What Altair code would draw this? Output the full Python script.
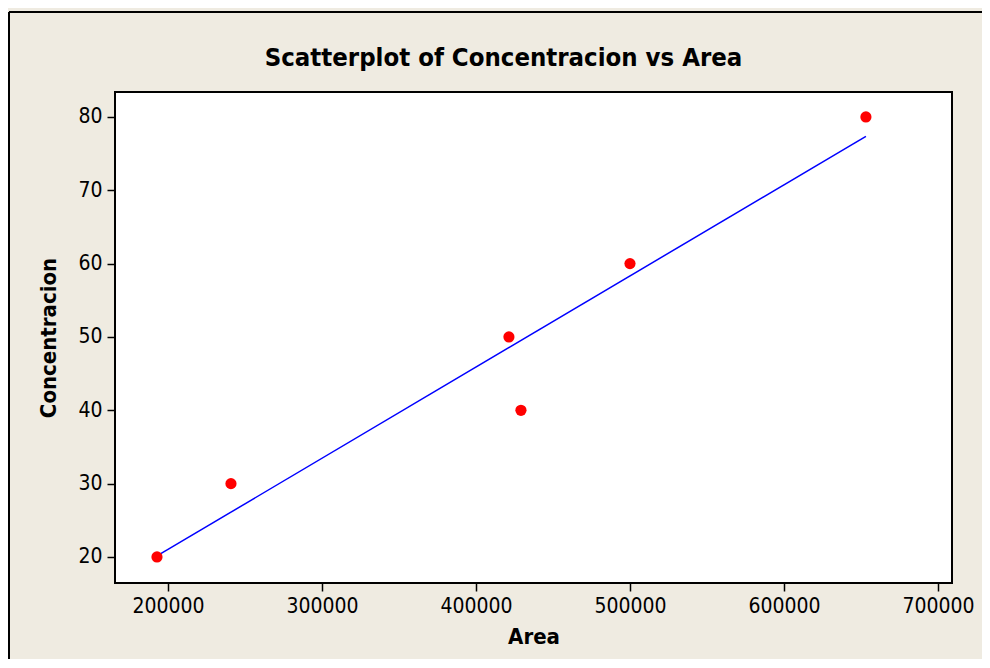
import altair as alt
import pandas as pd

area = [192860, 240900, 421400, 429200, 500000, 653200]
concentracion = [20, 30, 50, 40, 60, 80]
x_ticks = [200000, 300000, 400000, 500000, 600000, 700000]
y_ticks = [20, 30, 40, 50, 60, 70, 80]

df = pd.DataFrame({"Area": area, "Concentracion": concentracion})

FONT = "DejaVu Sans Condensed, DejaVu Sans"
BG = "#EFEBE1"

xs = alt.Scale(domain=[165600, 709100], nice=False, zero=False)
ys = alt.Scale(domain=[16.45, 83.4], nice=False, zero=False)

x_axis = alt.Axis(values=x_ticks, format="d", title="Area", grid=False, domain=False,
                  tickSize=8, tickColor="black", tickWidth=1.5, labelPadding=4,
                  labelFontSize=21, labelFont=FONT, labelColor="black",
                  titleFontSize=22, titleFont=FONT, titleFontWeight="bold",
                  titleColor="black", titlePadding=10)
y_axis = alt.Axis(values=y_ticks, format="d", title="Concentracion", grid=False, domain=False,
                  tickSize=8, tickColor="black", tickWidth=1.5, labelPadding=5,
                  labelFontSize=21, labelFont=FONT, labelColor="black",
                  titleFontSize=22, titleFont=FONT, titleFontWeight="bold",
                  titleColor="black", titlePadding=17)

base = alt.Chart(df)

points = base.mark_circle(color="#FF0000", opacity=1, size=125).encode(
    x=alt.X("Area:Q", scale=xs, axis=x_axis),
    y=alt.Y("Concentracion:Q", scale=ys, axis=y_axis),
)

line = base.transform_regression("Area", "Concentracion").mark_line(
    color="#0000FF", strokeWidth=1.5
).encode(
    x=alt.X("Area:Q", scale=xs),
    y=alt.Y("Concentracion:Q", scale=ys),
)

frame_data = alt.Data(values=[{"k": 1}])
left_border = alt.Chart(frame_data).mark_rule(color="black", strokeWidth=2).encode(
    x=alt.value(-106), y=alt.value(-80), y2=alt.value(700)
)
top_border = alt.Chart(frame_data).mark_rule(color="black", strokeWidth=2).encode(
    x=alt.value(-106), x2=alt.value(1000), y=alt.value(-80)
)

chart = alt.layer(left_border, top_border, line, points).properties(
    width=837,
    height=491,
    autosize="none",
    padding={"left": 107, "top": 84, "right": 30, "bottom": 76},
    background=BG,
    title=alt.TitleParams(
        "Scatterplot of Concentracion vs Area",
        font=FONT, fontSize=25.5, fontWeight="bold", color="black",
        anchor="middle", dx=-30, offset=22, dy=82,
    ),
).configure_view(
    stroke="black", strokeWidth=2, fill="white"
)

chart.save("out.html", embed_options={"renderer": "svg", "actions": False})
